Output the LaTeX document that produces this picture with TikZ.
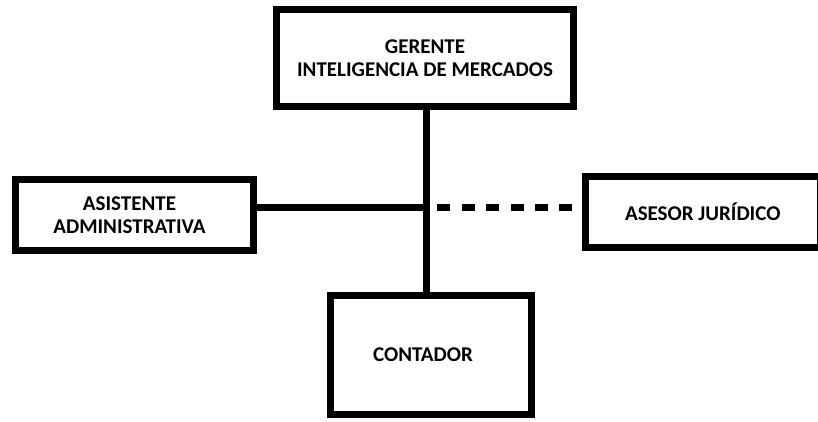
\documentclass[tikz,border=0pt]{standalone}
\usepackage{fontspec}
\setmainfont{Carlito}
\usepackage{tikz}
\usetikzlibrary{positioning}
\tikzset{
    box/.style={draw,line width=7pt,fill=white,inner sep=0pt,align=center,
        font=\fontsize{21}{23}\selectfont\bfseries},
    link/.style={draw,line width=7pt},
    dlink/.style={link,dash pattern=on 13pt off 11.4pt,dash phase=13pt},
}

\begin{document}
\begin{tikzpicture}[x=1pt,y=-1pt]
\useasboundingbox (0,0) rectangle (818,422);
\node[box,minimum width=297pt,minimum height=97pt]  (gerente)   at (425,58)    {GERENTE\\INTELIGENCIA DE MERCADOS};
\node[box,minimum width=238pt,minimum height=71pt]  (asistente) at (134.5,215) {ASISTENTE\hspace*{10pt}\\ADMINISTRATIVA\hspace*{10pt}};
\node[box,minimum width=234.5pt,minimum height=71pt] (asesor)   at (702.75,212) {ASESOR JURÍDICO};
\node[box,minimum width=201pt,minimum height=119pt] (contador)  at (431,355)   {CONTADOR\hspace*{16pt}};
\coordinate (hub) at (426,207.5);
\path
    (hub |- gerente.south) edge[link] (hub |- contador.north)
    (asistente.east |- hub) edge[link] (hub)
    (hub) edge[dlink] (asesor.west |- hub)
;
\end{tikzpicture}
\end{document}
